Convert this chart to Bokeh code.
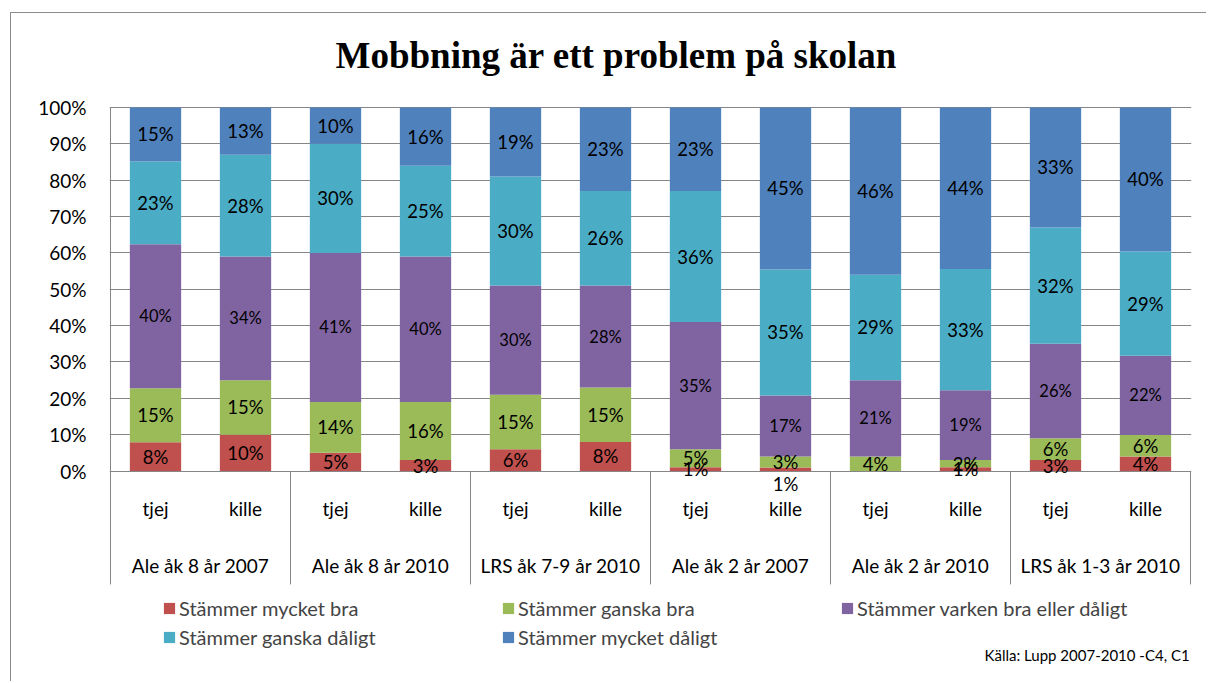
import numpy as np
from bokeh.plotting import figure
from bokeh.models import (ColumnDataSource, Range1d, FixedTicker, NumeralTickFormatter,
                          Legend, LegendItem, Label)
from bokeh.core.properties import value
from bokeh.embed import file_html
from bokeh.resources import INLINE

# ---------------- data ----------------
chart_title = "Mobbning är ett problem på skolan"
source_note = "Källa: Lupp 2007-2010 -C4, C1"
groups = ["Ale åk 8 år 2007", "Ale åk 8 år 2010", "LRS åk 7-9 år 2010",
          "Ale åk 2 år 2007", "Ale åk 2 år 2010", "LRS åk 1-3 år 2010"]
sexes = ["tjej", "kille"]
series_names = ["Stämmer mycket bra", "Stämmer ganska bra",
                "Stämmer varken bra eller dåligt", "Stämmer ganska dåligt",
                "Stämmer mycket dåligt"]
mycket_bra    = [8, 10, 5, 3, 6, 8, 1, 1, 0, 1, 3, 4]
ganska_bra    = [15, 15, 14, 16, 15, 15, 5, 3, 4, 2, 6, 6]
varken        = [40, 34, 41, 40, 30, 28, 35, 17, 21, 19, 26, 22]
ganska_daligt = [23, 28, 30, 25, 30, 26, 36, 35, 29, 33, 32, 29]
mycket_daligt = [15, 13, 10, 16, 19, 23, 23, 45, 46, 44, 33, 40]
y_ticks = [0.0, 0.1, 0.2, 0.3, 0.4, 0.5, 0.6, 0.7, 0.8, 0.9, 1.0]

# ---------------- styling ----------------
colors = ["#C0504D", "#9BBB59", "#8064A2", "#4BACC6", "#4F81BD"]
label_sizes = ["18.5px", "18.5px", "16.5px", "18.5px", "18.5px"]
FONT = "Lato"
GRID = "#868686"

n = len(groups) * len(sexes)
xs = np.arange(n) + 0.5
vals = np.array([mycket_bra, ganska_bra, varken, ganska_daligt, mycket_daligt], dtype=float)
frac = vals / vals.sum(axis=0)
tops = np.cumsum(frac, axis=0)
bots = tops - frac

# plot-area geometry: 90 px per bar slot, 363.5 px for 0..100 %
PX_X = 90.0
PX_Y = 363.5
FRAME_W, FRAME_H = 1082, 668
X0 = -1.0 / PX_X
Y_TOP = 1.0 + 94.0 / PX_Y          # frame top is 94 px above the 100 % line
Y_BOT = Y_TOP - FRAME_H / PX_Y
Y_SEP = -0.312                     # lower end of the category separators

p = figure(frame_width=FRAME_W, frame_height=FRAME_H,
           x_range=Range1d(X0, X0 + FRAME_W / PX_X), y_range=Range1d(Y_BOT, Y_TOP),
           x_axis_location=None,
           min_border_left=98, min_border_right=15, min_border_top=0, min_border_bottom=0,
           output_backend="svg", toolbar_location=None, tools="")
p.outline_line_color = None
p.background_fill_color = "white"
p.border_fill_color = "white"
p.margin = (12, 0, 0, 10)
p.styles = {"border-left": "1px solid #8c8c8c", "border-top": "1px solid #8c8c8c"}

# bars
renderers = []
for k in range(5):
    src = ColumnDataSource(dict(x=xs, bottom=bots[k], top=tops[k]))
    r = p.vbar(x="x", bottom="bottom", top="top", width=0.57, source=src,
               fill_color=colors[k], line_color=None)
    renderers.append(r)

# data labels
for k in range(5):
    keep = vals[k] > 0
    yoff = np.zeros(n)
    if k == 0:
        yoff[7] = 15  # Excel pushed this tiny label below the axis
    lsrc = ColumnDataSource(dict(
        x=xs[keep], y=((bots[k] + tops[k]) / 2)[keep],
        t=[f"{int(v)}%" for v in vals[k][keep]], yo=yoff[keep]))
    p.text(x="x", y="y", text="t", y_offset="yo", source=lsrc, text_align="center",
           text_baseline="middle", text_font=value(FONT), text_font_size=label_sizes[k],
           text_color="black")

# category labels (two levels) and separators
sub_src = ColumnDataSource(dict(x=xs, y=np.full(n, -0.103),
                                t=[sexes[i % 2] for i in range(n)]))
p.text(x="x", y="y", text="t", source=sub_src, text_align="center", text_baseline="middle",
       text_font=value(FONT), text_font_size="19px", text_color="black")
grp_src = ColumnDataSource(dict(x=np.arange(len(groups)) * 2 + 1.0,
                                y=np.full(len(groups), -0.26), t=groups))
p.text(x="x", y="y", text="t", source=grp_src, text_align="center", text_baseline="middle",
       text_font=value(FONT), text_font_size="19px", text_color="black")
sep_x = np.arange(len(groups) + 1) * 2.0
p.segment(x0=sep_x, y0=np.zeros(len(sep_x)), x1=sep_x, y1=np.full(len(sep_x), Y_SEP),
          line_color=GRID, line_width=1)
# value-axis line (left edge of the plot area)
p.segment(x0=[0.0], y0=[1.0], x1=[0.0], y1=[0.0], line_color=GRID, line_width=1)

# y axis (labels) and horizontal grid
ticker = FixedTicker(ticks=y_ticks)
p.yaxis.ticker = ticker
p.ygrid.ticker = ticker
p.yaxis.formatter = NumeralTickFormatter(format="0%")
p.yaxis.major_tick_out = 0
p.yaxis.major_tick_in = 0
p.yaxis.minor_tick_line_color = None
p.yaxis.major_tick_line_color = None
p.yaxis.axis_line_color = None
p.yaxis.major_label_standoff = 23
p.yaxis.major_label_text_font = FONT
p.yaxis.major_label_text_font_size = "19px"
p.yaxis.major_label_text_color = "black"
p.xgrid.visible = False
p.ygrid.grid_line_color = GRID
p.ygrid.grid_line_width = 1.2

# title & source note
p.add_layout(Label(x=5.62, y=1.0 + 52 / PX_Y, text=chart_title,
                   text_align="center", text_baseline="middle",
                   text_font="Liberation Serif", text_font_style="bold",
                   text_font_size="37px", text_color="black"))
p.add_layout(Label(x=11.99, y=-183.5 / PX_Y, text=source_note,
                   text_align="right", text_baseline="middle", text_font=FONT,
                   text_font_size="15px", text_color="black"))

# legend
legend = Legend(items=[LegendItem(label=series_names[k], renderers=[renderers[k]])
                       for k in range(5)],
                location=(53, 30), orientation="horizontal", ncols=3,
                padding=0, margin=0, spacing=0, glyph_width=14, glyph_height=14,
                label_standoff=3, label_width=322, label_height=29,
                label_text_font=FONT, label_text_font_size="20px",
                border_line_color=None, background_fill_alpha=0)
p.add_layout(legend)

open("out.html", "w").write(file_html(p, INLINE))
